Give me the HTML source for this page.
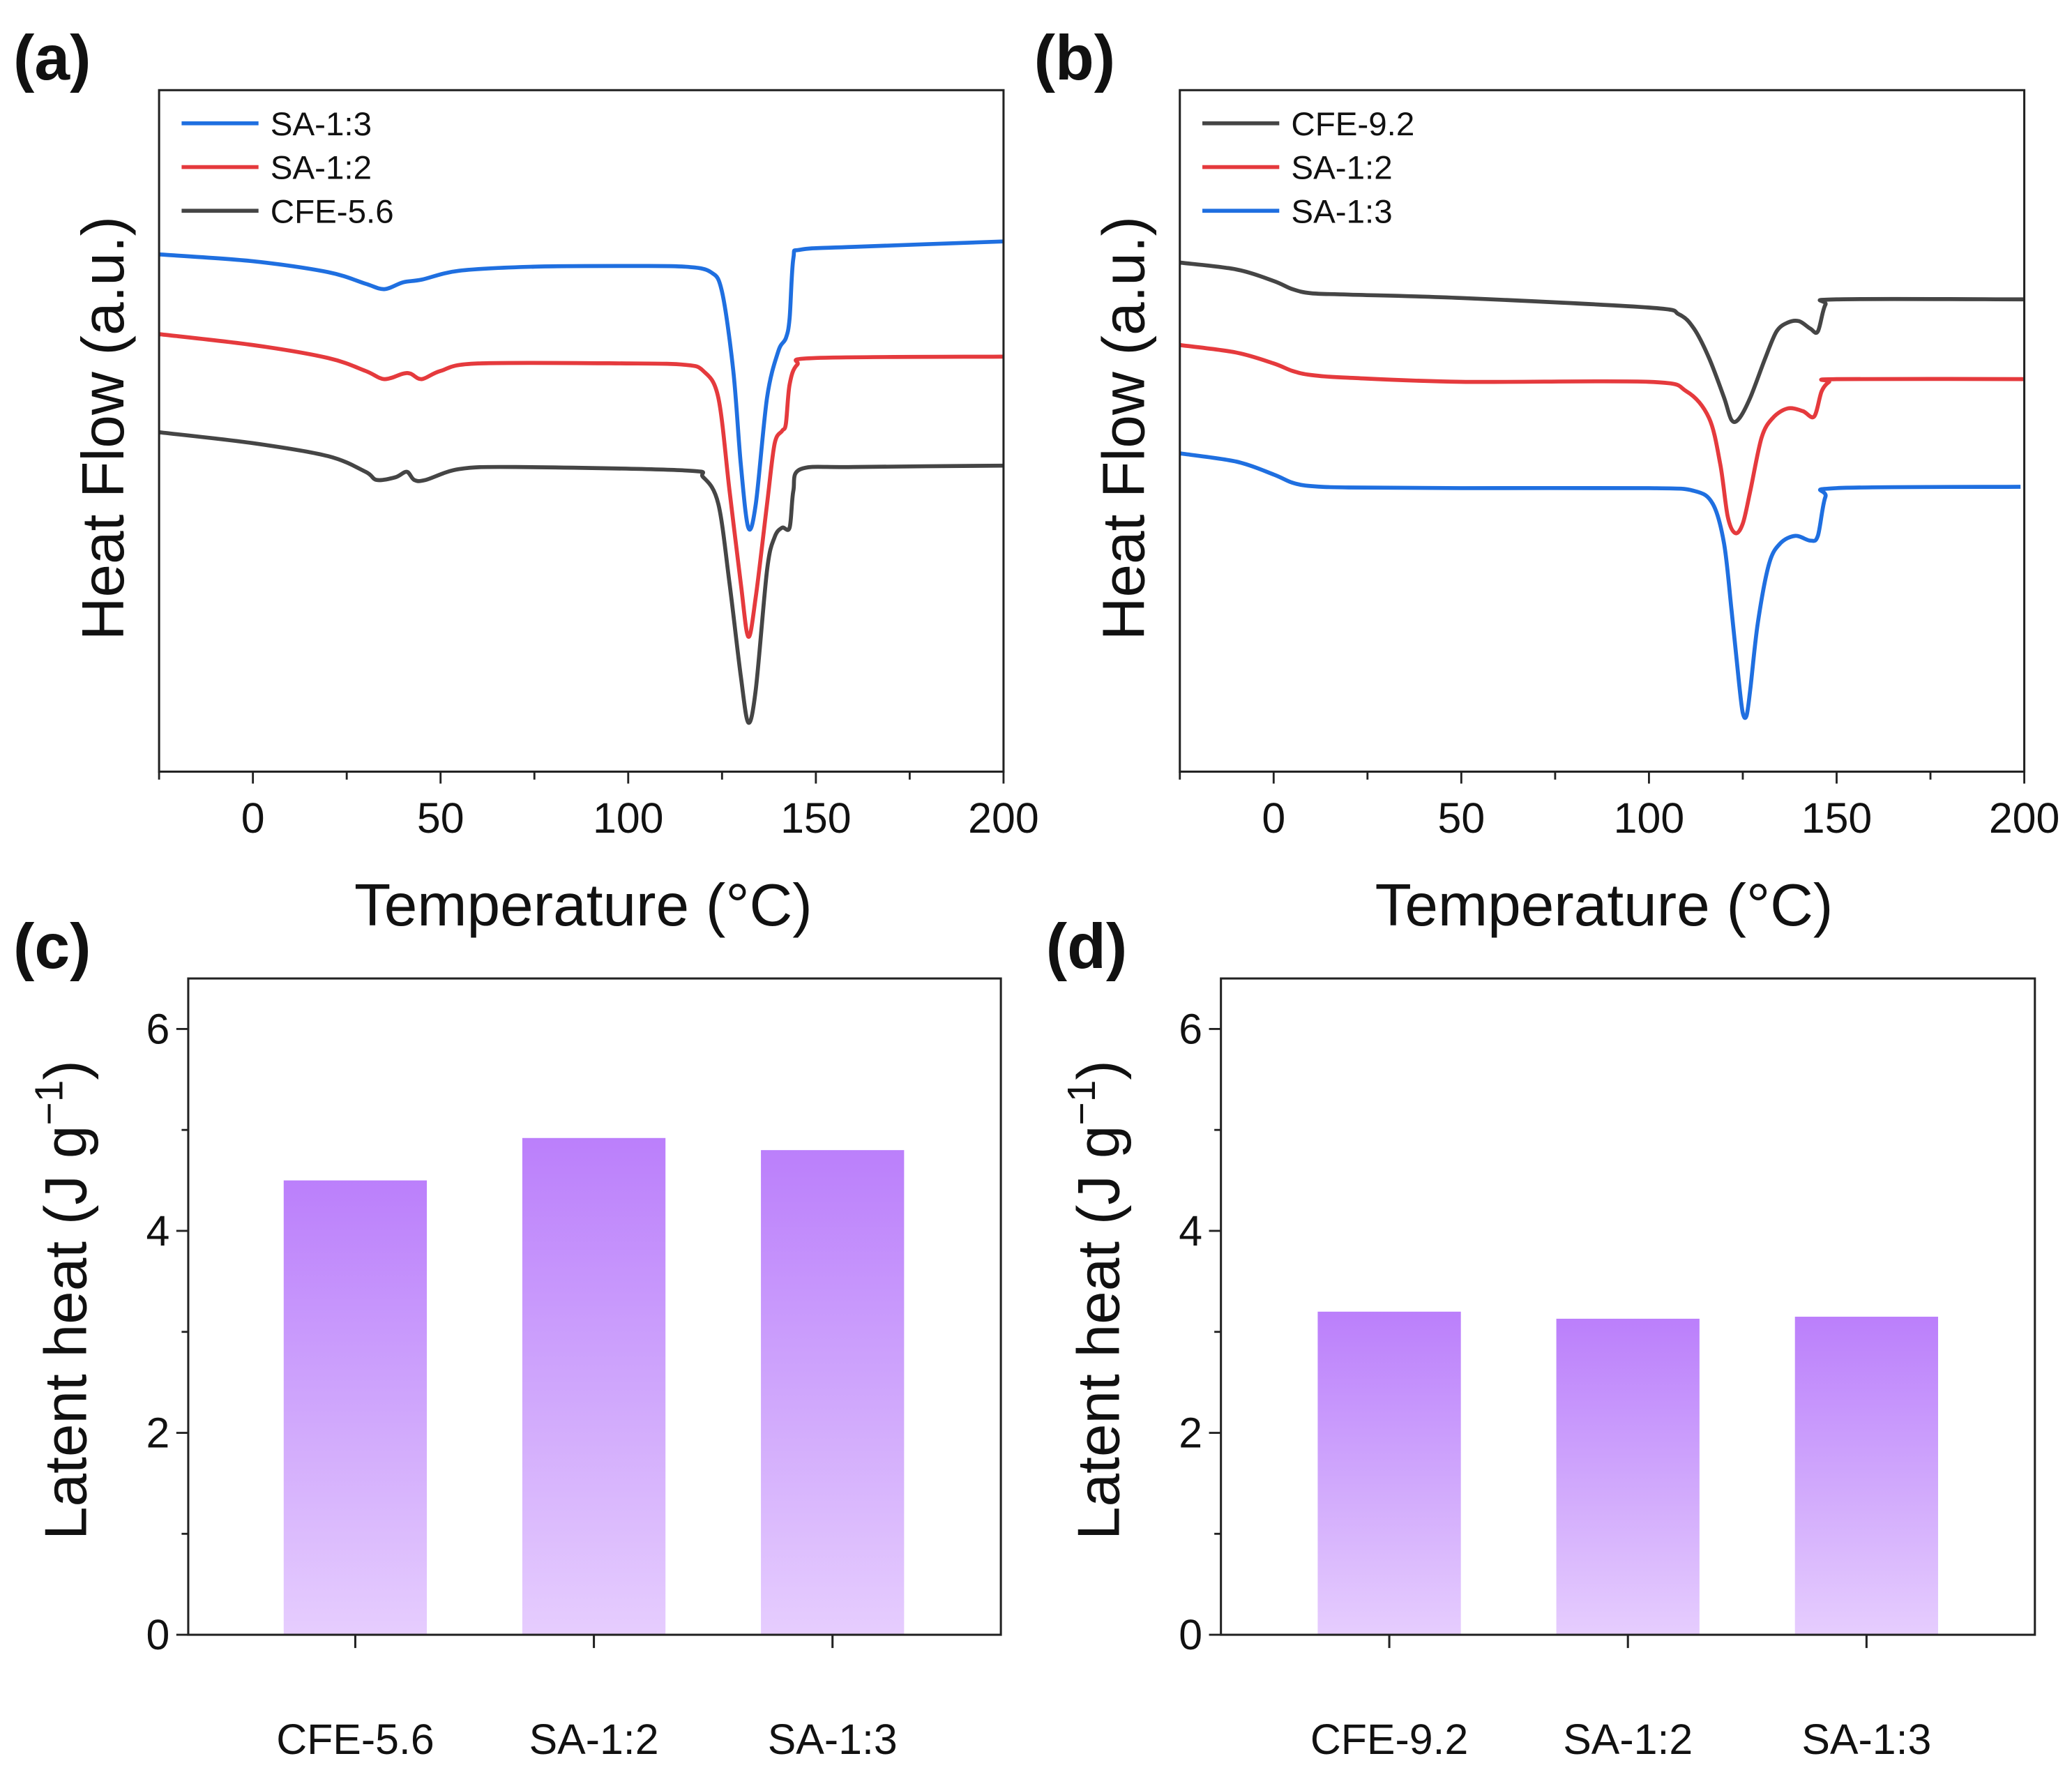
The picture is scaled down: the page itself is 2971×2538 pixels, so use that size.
<!DOCTYPE html>
<html><head><meta charset="utf-8"><style>
html,body{margin:0;padding:0;background:#fff}
svg{display:block}
text{font-family:"Liberation Sans",Arial,sans-serif;fill:#111}
</style></head><body>
<svg id="fig" xmlns="http://www.w3.org/2000/svg" width="2971" height="2538" viewBox="0 0 1563 1335" preserveAspectRatio="none">
<defs>
<linearGradient id="barGrad" x1="0" y1="0" x2="0" y2="1">
<stop offset="0" stop-color="#bb7ffb"/><stop offset="0.5" stop-color="#cfa6fc"/><stop offset="1" stop-color="#e6cdfe"/>
</linearGradient>
</defs>
<g id="root"></g>
</svg>
<script>
// ---------- DATA ----------
const aBlueT=[-25,0,20,30,35,40,45,55,75,100,115,122,125,128,130,132,134,137,140,142,143,144,146,160,200];
const aBlueY=[75.9,74.9,73.3,71.6,70.8,71.8,72.2,73.5,74.1,74.2,74.1,73.3,70.4,58.8,45.1,35.8,39.3,54.9,61.7,63.6,66.5,75.3,76.6,77.0,77.8];
const aRedT=[-25,0,20,30,35,40,42,45,50,60,100,115,120,124,127,130,132,134,137,139,141,142,143,145,150,200];
const aRedY=[64.2,62.6,60.7,58.8,57.6,58.4,58.4,57.6,58.8,59.9,59.9,59.7,58.8,54.9,41.2,27.6,19.8,25.7,39.3,48.1,50.0,51.0,56.8,59.7,60.7,60.9];
const aBlackT=[-25,0,20,30,33,38,41,43,46,55,70,115,120,124,127,130,132,134,137,139,141,143,144,146,160,200];
const aBlackY=[49.8,48.2,46.3,44.0,42.8,43.2,44.0,42.8,42.8,44.4,44.7,44.2,43.2,39.3,27.6,14.0,7.2,12.1,29.6,34.4,35.8,35.8,41.2,44.4,44.7,44.9];
const bBlackT=[-25,-10,0,5,10,20,50,100,108,112,116,120,122,124,127,131,134,137,140,143,145,147,150,200];
const bBlackY=[74.7,73.7,72.0,70.8,70.2,70.0,69.5,68.1,67.1,65.0,60.7,54.9,51.6,51.8,54.9,60.7,64.6,65.9,66.1,65.0,64.6,68.5,69.3,69.3];
const bRedT=[-25,-10,0,5,10,20,50,100,110,116,119,121,123,125,127,130,133,137,141,144,146,148,150,200];
const bRedY=[62.6,61.5,59.9,58.8,58.2,57.8,57.2,57.2,55.8,51.9,45.1,37.4,35.0,36.4,41.2,49.0,51.9,53.3,52.9,52.1,55.8,57.2,57.6,57.6];
const bBlueT=[-25,-10,0,5,10,20,50,100,112,117,120,122,124,125,126,127,129,132,135,139,143,145,147,150,199];
const bBlueY=[46.7,45.5,43.6,42.4,41.9,41.7,41.6,41.6,41.2,39.3,33.5,23.7,13.0,8.6,8.2,12.1,21.8,30.5,33.5,34.6,33.9,34.6,40.3,41.6,41.8];
const xTicks=[0,50,100,150,200];
const cCats=["CFE-5.6","SA-1:2","SA-1:3"];
const cVals=[4.5,4.92,4.8];
const dCats=["CFE-9.2","SA-1:2","SA-1:3"];
const dVals=[3.2,3.13,3.15];
const yTicks=[0,2,4,6];

// ---------- HELPERS ----------
const NS="http://www.w3.org/2000/svg";
const root=document.getElementById('root');
function mk(tag,attrs,parent,txt){const e=document.createElementNS(NS,tag);for(const k in attrs)e.setAttribute(k,attrs[k]);if(txt!==undefined)e.textContent=txt;(parent||root).appendChild(e);return e;}
function smoothPath(pts){let d=`M${pts[0][0]},${pts[0][1]}`;for(let i=0;i<pts.length-1;i++){const p0=pts[Math.max(i-1,0)],p1=pts[i],p2=pts[i+1],p3=pts[Math.min(i+2,pts.length-1)];const t=0.16;d+=` C${p1[0]+(p2[0]-p0[0])*t},${p1[1]+(p2[1]-p0[1])*t} ${p2[0]-(p3[0]-p1[0])*t},${p2[1]-(p3[1]-p1[1])*t} ${p2[0]},${p2[1]}`;}return d;}

function dscPanel(L,R,T,B,label,series,legend,xTitleX){
  const g=mk('g',{});
  
  
  const xs=t=>L+(t+25)/225*(R-L);
  const ys=v=>B-v/100*(B-T);
  const lab=mk('text',{x:L-110,y:60,'font-size':48,'font-weight':'bold'},g,'('+label+')');
  
  series.forEach(s=>{
    const p=mk('path',{d:smoothPath(s.t.map((t,i)=>[xs(t),ys(s.y[i])])),fill:'none',stroke:s.c,'stroke-width':3,'stroke-linejoin':'round'},g);
    
    
  });
  const fr=mk('rect',{x:L,y:T,width:R-L,height:B-T,fill:'none',stroke:'#222','stroke-width':1.6},g);
  
  for(let t=-25;t<=200;t+=25){const major=xTicks.includes(t);mk('line',{x1:xs(t),x2:xs(t),y1:B,y2:B+(major?9:6),stroke:'#222','stroke-width':1.5},g);}
  xTicks.forEach(t=>{const tl=mk('text',{x:xs(t),y:628,'font-size':32,'text-anchor':'middle'},g,String(t));
    });
  const xt=mk('text',{x:xTitleX,y:698,'font-size':45,'text-anchor':'middle'},g,'Temperature (°C)');
  
  const yt=mk('text',{x:0,y:0,'font-size':45,'text-anchor':'middle',transform:`translate(${L-27},${(T+B)/2-2}) rotate(-90)`},g,'Heat Flow (a.u.)');
  
  legend.forEach((s,i)=>{
    const y=93+i*33;
    const ll=mk('line',{x1:L+17,x2:L+75,y1:y,y2:y,stroke:s.c,'stroke-width':3},g);
    
    const lt=mk('text',{x:L+84,y:y+9,'font-size':25},g,s.n);
    
  });
}

function barPanel(L,R,T,B,label,cats,vals,centers){
  const g=mk('g',{});
  
  
  const ys=v=>B-v/6.5*(B-T);
  const lab=mk('text',{x:L-132,y:730,'font-size':48,'font-weight':'bold'},g,'('+label+')');
  
  cats.forEach((c,i)=>{
    const r=mk('rect',{x:centers[i]-54,y:ys(vals[i]),width:108,height:B-ys(vals[i]),fill:'url(#barGrad)'},g);
    
    
    mk('line',{x1:centers[i],x2:centers[i],y1:B,y2:B+10,stroke:'#222','stroke-width':1.6},g);
    const ct=mk('text',{x:centers[i],y:1323,'font-size':32,'text-anchor':'middle'},g,c);
    
  });
  const fr=mk('rect',{x:L,y:T,width:R-L,height:B-T,fill:'none',stroke:'#222','stroke-width':1.6},g);
  
  for(let v=0;v<=6;v++){const major=yTicks.includes(v);mk('line',{x1:L-(major?9:5),x2:L,y1:ys(v),y2:ys(v),stroke:'#222','stroke-width':1.5},g);}
  yTicks.forEach(v=>{const tl=mk('text',{x:L-14,y:ys(v)+11,'font-size':32,'text-anchor':'end'},g,String(v));
    });
  const yt=mk('text',{x:0,y:0,'font-size':45,'text-anchor':'middle',transform:`translate(${L-77},${(T+B)/2-5}) rotate(-90)`},g);
  
  yt.appendChild(document.createTextNode('Latent heat (J g'));
  mk('tspan',{'font-size':30,dy:-18},yt,'−1');
  mk('tspan',{dy:18},yt,')');
}

const BLUE="#1f6fe0",RED="#e53a3d",BLACK="#454545";
dscPanel(120,757,68,582,'a',
  [{t:aBlackT,y:aBlackY,c:BLACK,n:'CFE-5.6'},{t:aRedT,y:aRedY,c:RED,n:'SA-1:2'},{t:aBlueT,y:aBlueY,c:BLUE,n:'SA-1:3'}],
  [{c:BLUE,n:'SA-1:3'},{c:RED,n:'SA-1:2'},{c:BLACK,n:'CFE-5.6'}],440);
dscPanel(890,1527,68,582,'b',
  [{t:bBlueT,y:bBlueY,c:BLUE,n:'SA-1:3'},{t:bRedT,y:bRedY,c:RED,n:'SA-1:2'},{t:bBlackT,y:bBlackY,c:BLACK,n:'CFE-9.2'}],
  [{c:BLACK,n:'CFE-9.2'},{c:RED,n:'SA-1:2'},{c:BLUE,n:'SA-1:3'}],1210);
barPanel(142,755,738,1233,'c',cCats,cVals,[268,448,628]);
barPanel(921,1535,738,1233,'d',dCats,dVals,[1048,1228,1408]);
</script>
</body></html>
